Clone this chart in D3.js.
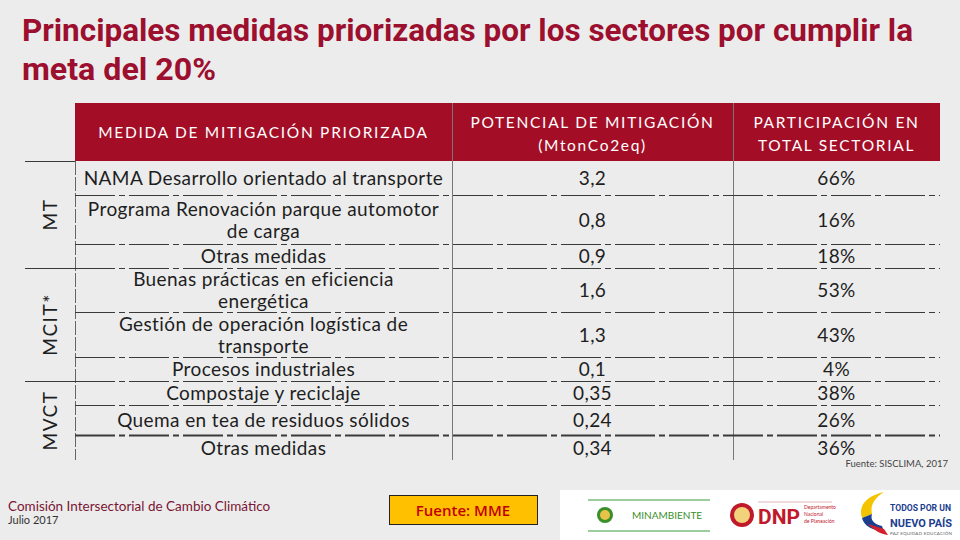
<!DOCTYPE html>
<html><head><meta charset="utf-8">
<script src="https://cdn.jsdelivr.net/npm/d3@7"></script>
<style>
html,body{margin:0;padding:0;background:#ececec;}
svg{display:block;}
</style></head>
<body>
<script>
// ---- data ----
const titleLines = ["Principales medidas priorizadas por los sectores por cumplir la", "meta del 20%"];
const headers = [["MEDIDA DE MITIGACIÓN PRIORIZADA"], ["POTENCIAL DE MITIGACIÓN", "(MtonCo2eq)"], ["PARTICIPACIÓN EN", "TOTAL SECTORIAL"]];
const sectors = ["MT", "MCIT*", "MVCT"];
const rowSector = ["MT", "MT", "MT", "MCIT*", "MCIT*", "MCIT*", "MVCT", "MVCT", "MVCT"];
const measures = [
  ["NAMA Desarrollo orientado al transporte"],
  ["Programa Renovación parque automotor", "de carga"],
  ["Otras medidas"],
  ["Buenas prácticas en eficiencia", "energética"],
  ["Gestión de operación logística de", "transporte"],
  ["Procesos industriales"],
  ["Compostaje y reciclaje"],
  ["Quema en tea de residuos sólidos"],
  ["Otras medidas"]
];
const potential = [3.2, 0.8, 0.9, 1.6, 1.3, 0.1, 0.35, 0.24, 0.34];
const share = [66, 16, 18, 53, 43, 4, 38, 26, 36];
const sourceNote = "Fuente: SISCLIMA, 2017";
const footerOrg = "Comisión Intersectorial de Cambio Climático";
const footerDate = "Julio 2017";
const sourceBox = "Fuente: MME";

// ---- layout ----
const W = 960, H = 540;
const rowH = [34, 49, 24, 44, 45, 24, 24, 30, 25];
const tableTop = 161, headTop = 103;
const colEdges = [75, 452, 733, 940];
const red = "#a30e26";
const ink = "#1e1e1e";
const FONT = "'Lato', 'Open Sans', 'DejaVu Sans', sans-serif";

const svg = d3.select("body").append("svg").attr("width", W).attr("height", H);
svg.append("rect").attr("width", W).attr("height", H).attr("fill", "#ececec");

// title
const title = svg.append("g").attr("font-family", "'Liberation Sans Narrow','Roboto','DejaVu Sans Condensed',sans-serif")
  .attr("font-weight", "bold").attr("fill", "#9c0f2e").attr("font-size", 31);
title.append("text").attr("x", 22).attr("y", 41).text(titleLines[0])
  .attr("textLength", 891).attr("lengthAdjust", "spacingAndGlyphs");
title.append("text").attr("x", 22).attr("y", 80).text(titleLines[1])
  .attr("textLength", 194).attr("lengthAdjust", "spacingAndGlyphs");

// row positions (cumulative)
const rows = d3.range(measures.length);
const cum = [tableTop];
rowH.forEach((h, i) => cum.push(cum[i] + h));
const yTop = i => cum[i], yBot = i => cum[i + 1];
const colCenter = c => (colEdges[c] + colEdges[c + 1]) / 2;

// header band
svg.append("rect").attr("x", colEdges[0]).attr("y", headTop).attr("width", colEdges[3] - colEdges[0])
  .attr("height", tableTop - headTop).attr("fill", red);
const hg = svg.append("g").attr("font-family", FONT).attr("fill", "#fff").attr("font-size", 15.5)
  .attr("letter-spacing", 1.7).attr("text-anchor", "middle");
headers.forEach((lines, c) => {
  lines.forEach((t, k) => {
    hg.append("text").attr("x", colCenter(c)).attr("y", (c === 0 ? 138 : 128 + k * 23)).text(t);
  });
});

// vertical lines
const vg = svg.append("g").attr("stroke", "#666").attr("stroke-width", 1);
vg.append("line").attr("x1", colEdges[0] + 0.5).attr("x2", colEdges[0] + 0.5).attr("y1", tableTop).attr("y2", cum[cum.length - 1])
  .attr("stroke-dasharray", "14,2");
[1, 2].forEach(c => vg.append("line").attr("x1", colEdges[c] + 0.5).attr("x2", colEdges[c] + 0.5)
  .attr("y1", headTop).attr("y2", cum[cum.length - 1]).attr("stroke", "#777"));

// horizontal row lines
const hl = svg.append("g");
rows.slice(0, rows.length - 1).forEach(i => {
  hl.append("line").attr("x1", colEdges[0]).attr("x2", colEdges[3]).attr("y1", yBot(i) + 0.5).attr("y2", yBot(i) + 0.5)
    .attr("stroke", "#3a3a3a").attr("stroke-width", i === 7 ? 2 : 1)
    .attr("stroke-dasharray", "40,4,6,4");
});

// sector column
const sectorExtents = sectors.map(s => {
  const idx = rows.filter(i => rowSector[i] === s);
  return { s, y0: yTop(idx[0]), y1: yBot(idx[idx.length - 1]) };
});
const sg = svg.append("g");
sectorExtents.forEach(e => {
  sg.append("line").attr("x1", 25).attr("x2", colEdges[0]).attr("y1", e.y0 + 0.5).attr("y2", e.y0 + 0.5)
    .attr("stroke", "#3a3a3a").attr("stroke-width", 1);
  const cy = (e.y0 + e.y1) / 2;
  sg.append("text").attr("transform", `translate(57,${cy}) rotate(-90)`).attr("text-anchor", "middle")
    .attr("font-family", FONT).attr("font-size", 19).attr("fill", ink).attr("letter-spacing", 1.5).text(e.s);
});

// cells
const fmt = v => String(v).replace(".", ",");
const cg = svg.append("g").attr("font-family", FONT).attr("font-size", 19).attr("letter-spacing", 0.4)
  .attr("fill", ink).attr("text-anchor", "middle");
rows.forEach(i => {
  const mid = (yTop(i) + yBot(i)) / 2;
  const lines = measures[i];
  lines.forEach((t, k) => {
    cg.append("text").attr("x", colCenter(0)).attr("y", mid + 7 + (k - (lines.length - 1) / 2) * 22).text(t);
  });
  cg.append("text").attr("x", colCenter(1)).attr("y", mid + 7).text(fmt(potential[i]));
  cg.append("text").attr("x", colCenter(2)).attr("y", mid + 7).text(share[i] + "%");
});

// source note
svg.append("text").attr("x", 948).attr("y", 467).attr("text-anchor", "end").attr("font-family", FONT)
  .attr("font-size", 9.5).attr("fill", "#444").text(sourceNote);

// footer
svg.append("text").attr("x", 8).attr("y", 511).attr("font-family", FONT).attr("font-size", 13.5)
  .attr("fill", "#7a1533").text(footerOrg);
svg.append("text").attr("x", 8).attr("y", 524).attr("font-family", FONT).attr("font-size", 11)
  .attr("fill", "#333").text(footerDate);

svg.append("rect").attr("x", 389.5).attr("y", 495.5).attr("width", 148).attr("height", 29)
  .attr("fill", "#ffc000").attr("stroke", "#222").attr("stroke-width", 1);
svg.append("text").attr("x", 463).attr("y", 516).attr("text-anchor", "middle").attr("font-family", "'Open Sans',sans-serif")
  .attr("font-size", 15).attr("font-weight", 600).attr("fill", "#c00000").text(sourceBox);

// logos
const lg = svg.append("g");
lg.append("rect").attr("x", 560).attr("y", 490).attr("width", 400).attr("height", 50).attr("fill", "#fff");
// minambiente
lg.append("line").attr("x1", 588).attr("x2", 710).attr("y1", 500).attr("y2", 500).attr("stroke", "#3a9b3a");
lg.append("line").attr("x1", 588).attr("x2", 710).attr("y1", 531).attr("y2", 531).attr("stroke", "#3a9b3a");
lg.append("circle").attr("cx", 605).attr("cy", 515).attr("r", 8).attr("fill", "#3a8f2a");
lg.append("circle").attr("cx", 605).attr("cy", 515).attr("r", 5).attr("fill", "#e8c34a");
lg.append("text").attr("x", 632).attr("y", 519).attr("font-family", FONT).attr("font-size", 10).attr("fill", "#3a8f2a").text("MINAMBIENTE");
// DNP
lg.append("circle").attr("cx", 742).attr("cy", 515).attr("r", 12).attr("fill", "#c0192b");
lg.append("circle").attr("cx", 742).attr("cy", 515).attr("r", 8).attr("fill", "#f2d27a");
lg.append("text").attr("x", 758).attr("y", 524).attr("font-family", "'Roboto',sans-serif").attr("font-weight", "bold")
  .attr("font-size", 21).attr("fill", "#c0192b").attr("textLength", 42).attr("lengthAdjust", "spacingAndGlyphs").text("DNP");
lg.append("line").attr("x1", 758).attr("x2", 832).attr("y1", 502).attr("y2", 502).attr("stroke", "#e2b6bc");
["Departamento", "Nacional", "de Planeación"].forEach((t, k) =>
  lg.append("text").attr("x", 804).attr("y", 509 + k * 7).attr("font-family", FONT).attr("font-size", 5).attr("fill", "#c0192b").text(t));
// todos por un nuevo país
lg.append("path").attr("d", "M884,492 C866,496 858,506 862,518 L872,514 C870,506 874,498 884,492Z").attr("fill", "#f5c400");
lg.append("path").attr("d", "M862,518 C864,526 872,530 884,532 L882,526 C874,524 870,520 872,514Z").attr("fill", "#1c3e8f");
lg.append("path").attr("d", "M868,524 C874,530 880,534 888,535 L884,529Z").attr("fill", "#d51f2c");
lg.append("text").attr("x", 890).attr("y", 511).attr("font-family", "'Roboto',sans-serif").attr("font-weight", "bold")
  .attr("font-size", 9).attr("fill", "#1c3e8f").attr("textLength", 61).attr("lengthAdjust", "spacingAndGlyphs").text("TODOS POR UN");
lg.append("text").attr("x", 890).attr("y", 527).attr("font-family", "'Roboto',sans-serif").attr("font-weight", "bold")
  .attr("font-size", 11.5).attr("fill", "#1c3e8f").attr("textLength", 62).attr("lengthAdjust", "spacingAndGlyphs").text("NUEVO PAÍS");
lg.append("text").attr("x", 890).attr("y", 535).attr("font-family", FONT)
  .attr("font-size", 4.5).attr("fill", "#666").attr("textLength", 62).text("PAZ  EQUIDAD  EDUCACIÓN");
</script>
</body></html>
